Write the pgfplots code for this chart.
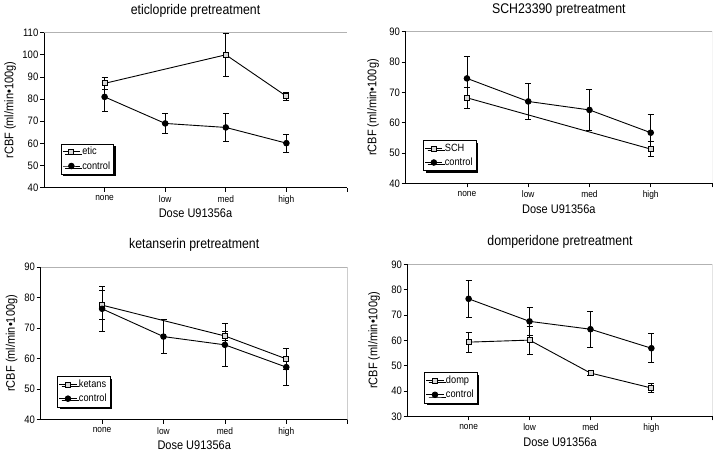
\documentclass[border=0pt]{standalone}
\usepackage{pgfplots}
\pgfplotsset{compat=1.18}
\usepackage{fontspec}
\setmainfont{Liberation Sans}[FakeStretch=0.88]
\usetikzlibrary{shadows}

\pgfplotsset{
  panel/.style={
    scale only axis,
    xmin=0, xmax=5,
    xtick={1,2,3,4,5},
    xticklabels={none,low,med,high,{}},
    axis x line*=bottom, axis y line*=left,
    axis line style={black, line width=0.8pt},
    tick style={black, line width=0.7pt},
    tick align=outside,
    major tick length=4pt,
    /pgf/number format/assume math mode=true,
    yticklabel style={font=\fontsize{10.8}{12}\selectfont, inner sep=1.5pt},
    xticklabel style={font=\fontsize{9.5}{11}\selectfont},
    title style={font=\fontsize{14}{16}\selectfont, at={(axis description cs:0.5,1)}, anchor=center, yshift=16pt},
    xlabel style={font=\fontsize{12.5}{14}\selectfont, at={(axis description cs:0.5,0)}, anchor=center, yshift=-26pt},
    xlabel={Dose U91356a},
    ylabel={rCBF (ml/min•100g)},
    legend cell align=left,
  },
  ylab/.style={every axis y label/.style={at={(axis description cs:#1,0.5)}, rotate=90, anchor=center, font=\fontsize{12.5}{14}\selectfont}},
  leg/.style 2 args={legend style={at={(#1,#2)}, anchor=north west, draw=black, fill=white,
      font=\fontsize{10.5}{12}\selectfont, inner sep=1.5pt, row sep=1pt,
      drop shadow={shadow xshift=2.2pt, shadow yshift=-2.2pt, fill=black, opacity=1}}},
  sq/.style={black, line width=0.9pt, mark=square*, mark options={fill=gray!30, mark size=2.5pt, solid, line width=0.8pt},
     error bars/.cd, y dir=both, y explicit, error bar style={line width=0.8pt}, error mark options={rotate=90, mark size=3pt, line width=0.8pt}},
  ci/.style={black, line width=0.9pt, mark=*, mark options={fill=black, mark size=2.8pt, solid},
     error bars/.cd, y dir=both, y explicit, error bar style={line width=0.8pt}, error mark options={rotate=90, mark size=3pt, line width=0.8pt}},
}

\newcommand{\frametr}{\draw[gray!60, line width=0.6pt] (rel axis cs:0,1) -- (rel axis cs:1,1) -- (rel axis cs:1,0);}

\begin{document}
\begin{tikzpicture}
\path (0,0) rectangle (720pt,445pt);

% Panel 1: eticlopride
\begin{axis}[panel, ylab=-0.112, leg={0.055}{0.284},
  at={(44pt,265pt)}, anchor=south west, width=303pt, height=155pt,
  ymin=40, ymax=110, ytick={40,50,...,110},
  title={eticlopride pretreatment}]
\addplot[sq] coordinates {(1,87.1) +- (0,2.7) (3,100.0) +- (0,9.65) (4,81.3) +- (0,1.9)};
\addlegendentry{etic}
\addplot[ci] coordinates {(1,81.0) +- (0,6.5) (2,69.0) +- (0,4.4) (3,67.2) +- (0,6.3) (4,60.1) +- (0,4.1)};
\addlegendentry{control}
\frametr
\end{axis}

% Panel 2: SCH23390
\begin{axis}[panel, ylab=-0.106, leg={0.057}{0.283},
  at={(405.7pt,269.3pt)}, anchor=south west, width=306.3pt, height=151.7pt,
  ymin=40, ymax=90, ytick={40,50,...,90},
  title={SCH23390 pretreatment}]
\addplot[sq] coordinates {(1,68.2) +- (0,3.5) (4,51.3) +- (0,2.5)};
\addlegendentry{SCH}
\addplot[ci] coordinates {(1,74.6) +- (0,7.1) (2,67.0) +- (0,5.85) (3,64.2) +- (0,6.9) (4,56.7) +- (0,5.9)};
\addlegendentry{control}
\frametr
\end{axis}

% Panel 3: ketanserin
\begin{axis}[panel, ylab=-0.095, leg={0.054}{0.284},
  at={(40.7pt,33pt)}, anchor=south west, width=307pt, height=152.7pt,
  ymin=40, ymax=90, ytick={40,50,...,90},
  title={ketanserin pretreatment}]
\addplot[sq] coordinates {(1,77.5) +- (0,4.75) (3,67.4) +- (0,1.6) (4,59.9) +- (0,3.3)};
\addlegendentry{ketans}
\addplot[ci] coordinates {(1,76.3) +- (0,7.3) (2,67.2) +- (0,5.6) (3,64.5) +- (0,7.0) (4,57.2) +- (0,6.0)};
\addlegendentry{control}
\frametr
\end{axis}

% Panel 4: domperidone
\begin{axis}[panel, ylab=-0.11, leg={0.0545}{0.289},
  at={(407.7pt,36.3pt)}, anchor=south west, width=304.6pt, height=152pt,
  ymin=30, ymax=90, ytick={30,40,...,90},
  title={domperidone pretreatment}]
\addplot[sq] coordinates {(1,59.3) +- (0,3.9) (2,60.1) +- (0,5.6) (3,47.1) +- (0,0.8) (4,41.2) +- (0,1.65)};
\addlegendentry{domp}
\addplot[ci] coordinates {(1,76.4) +- (0,7.4) (2,67.5) +- (0,5.4) (3,64.4) +- (0,7.05) (4,56.9) +- (0,5.75)};
\addlegendentry{control}
\frametr
\end{axis}
\end{tikzpicture}
\end{document}
